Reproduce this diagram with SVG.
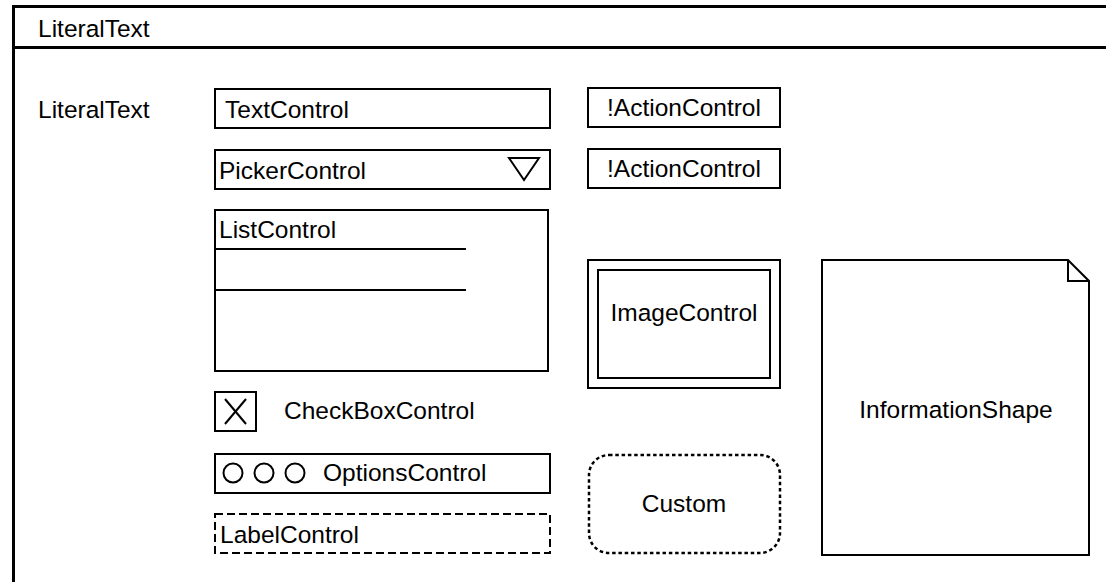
<svg xmlns="http://www.w3.org/2000/svg" width="1106" height="582" viewBox="0 0 1106 582">
  <style>
    .box { fill: #fff; stroke: #000; stroke-width: 2; }
    .frame { fill: #fff; stroke: #000; stroke-width: 3; }
    .ln { fill: none; stroke: #000; stroke-width: 2; }
    .dashed { fill: #fff; stroke: #000; stroke-width: 2; stroke-dasharray: 8 4; }
    .dotted { fill: #fff; stroke: #000; stroke-width: 2.5; stroke-dasharray: 3.5 2.8; }
    text { font-family: "Liberation Sans", Arial, sans-serif; font-size: 24.5px; fill: #000; }
    .mid { text-anchor: middle; }
  </style>
  <rect width="1106" height="582" fill="#fff"/>

  <!-- window frame with title bar -->
  <g id="window">
    <rect class="frame" x="13.5" y="6.5" width="1110" height="600"/>
    <line x1="13.5" y1="47.5" x2="1106" y2="47.5" stroke="#000" stroke-width="3"/>
    <text x="38" y="37">LiteralText</text>
  </g>

  <g id="label-literal">
    <text x="38" y="118">LiteralText</text>
  </g>

  <g id="text-control">
    <rect class="box" x="215" y="89" width="335" height="39"/>
    <text x="225" y="118">TextControl</text>
  </g>

  <g id="picker-control">
    <rect class="box" x="215" y="150" width="335" height="39"/>
    <text x="219" y="179">PickerControl</text>
    <polygon class="ln" points="509,158 539,158 524,180"/>
  </g>

  <g id="list-control">
    <rect class="box" x="215" y="210" width="333" height="161"/>
    <text x="219" y="238">ListControl</text>
    <line class="ln" x1="215" y1="249" x2="466" y2="249"/>
    <line class="ln" x1="215" y1="290" x2="466" y2="290"/>
  </g>

  <g id="checkbox-control">
    <rect class="box" x="215" y="392" width="41" height="39"/>
    <line class="ln" x1="225" y1="399" x2="246" y2="424"/>
    <line class="ln" x1="246" y1="399" x2="225" y2="424"/>
    <text x="284" y="419">CheckBoxControl</text>
  </g>

  <g id="options-control">
    <rect class="box" x="215" y="454" width="335" height="39"/>
    <circle class="ln" cx="233" cy="473" r="9.5"/>
    <circle class="ln" cx="264" cy="473" r="9.5"/>
    <circle class="ln" cx="295" cy="473" r="9.5"/>
    <text x="323" y="481">OptionsControl</text>
  </g>

  <g id="label-control">
    <rect class="dashed" x="215" y="514" width="335" height="39"/>
    <text x="220" y="543">LabelControl</text>
  </g>

  <g id="action-control-1">
    <rect class="box" x="588" y="88" width="192" height="39"/>
    <text class="mid" x="684" y="116">!ActionControl</text>
  </g>

  <g id="action-control-2">
    <rect class="box" x="588" y="149" width="192" height="39"/>
    <text class="mid" x="684" y="177">!ActionControl</text>
  </g>

  <g id="image-control">
    <rect class="box" x="588" y="260" width="192" height="128"/>
    <rect class="box" x="598" y="270" width="172" height="108"/>
    <text class="mid" x="684" y="321">ImageControl</text>
  </g>

  <g id="custom">
    <rect class="dotted" x="589" y="455" width="191" height="98" rx="20" ry="20"/>
    <text class="mid" x="684" y="512">Custom</text>
  </g>

  <g id="information-shape">
    <path class="box" d="M822,260 H1068 L1089,281 V555 H822 Z"/>
    <path class="ln" d="M1068,260 V281 H1089"/>
    <text class="mid" x="956" y="418">InformationShape</text>
  </g>
</svg>
